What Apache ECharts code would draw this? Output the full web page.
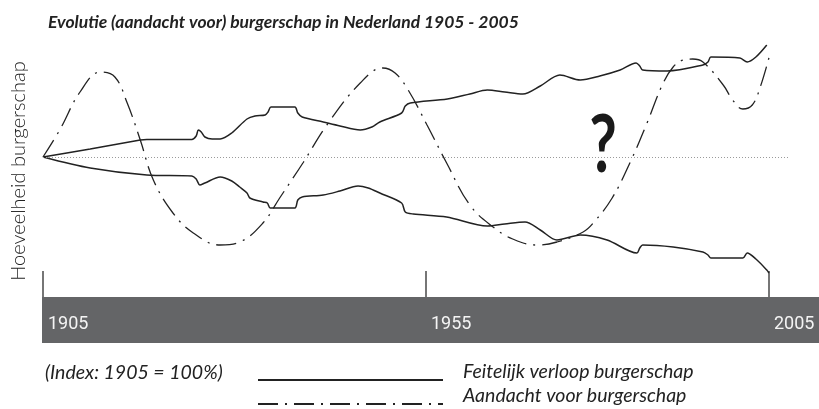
<!DOCTYPE html>
<html>
<head>
<meta charset="utf-8">
<script src="https://cdn.jsdelivr.net/npm/echarts@6/dist/echarts.min.js"></script>
<style>
  html, body { margin: 0; padding: 0; background: #fff; }
  #grafiek { width: 819px; height: 409px; }
</style>
</head>
<body>
<div id="grafiek"></div>
<script>
// Tijdas: 0 = 1905, 100 = 2005 (zoals getekend, niet helemaal lineair)
const tijdTicks = [0, 52.75, 100];
const tijdLabels = ['1905', '1955', '2005'];

// Index: 1905 = 100
const feitelijkBoven = [
    [0, 100], [6.5, 104], [13.4, 108.5], [14.3, 108.8], [20.5, 108.8], [21.1, 110.5], [21.4, 113.5],
    [21.8, 112.5], [22.3, 110], [23.3, 109], [24.4, 109], [26, 112], [28.1, 119], [29.2, 120.5],
    [30.6, 121], [31, 122.5], [31.4, 125], [32.6, 125], [34.7, 125], [35.1, 122], [35.7, 120],
    [38.6, 117.5], [40.9, 115.5], [43.7, 113.5], [45.3, 115], [46.4, 117.5], [49.4, 122], [49.9, 125.5],
    [50.6, 127], [55.7, 129], [58.8, 131.5], [61.2, 133.5], [63.6, 132.5], [66.1, 131.5], [68.5, 135.5],
    [71.2, 141], [74, 138.5], [76.7, 140.5], [79.5, 143.5], [81.7, 147], [82.2, 145.5], [82.6, 143.5],
    [86, 143], [90.9, 146], [91.6, 147.5], [92, 150], [96, 149.5], [97, 147.5], [98.2, 150], [99.7, 156]
];
const feitelijkOnder = [
    [0, 100], [6.5, 94.5], [14.3, 91], [20.5, 90.5], [21.1, 89], [21.6, 86], [22.3, 87], [24.4, 90],
    [26, 88], [27.1, 85], [28.1, 82], [28.5, 79.5], [30.3, 77.5], [30.9, 77], [31.3, 74.5], [32.6, 74.5],
    [34.7, 74.5], [35.1, 78.5], [35.7, 80], [38.6, 81], [40.9, 83], [43.4, 85.5], [44.8, 84.5], [46.4, 82],
    [49.4, 77], [49.9, 72.5], [51, 71.5], [55.6, 70], [61.2, 65.5], [63.6, 66.5], [66.4, 67.5], [68.5, 63.5],
    [70.8, 58.5], [74, 61], [77.7, 58.5], [81.8, 52], [82.2, 54.5], [82.6, 56], [86.8, 55], [90.9, 52.5],
    [91.6, 51], [92, 49.5], [96.4, 49.5], [97, 52], [98.2, 49], [99.7, 43.5], [100, 42]
];
const aandacht = [
    [0, 100], [2.3, 113.5], [5.1, 132.5], [7.9, 142.5], [9.9, 140], [11.6, 127], [13.4, 108.5],
    [15.2, 88.5], [17.9, 72], [20.7, 62], [24.4, 56], [27.1, 57.5], [30.3, 67], [32.6, 79.5],
    [35.8, 97], [39.1, 116], [43.7, 137], [46.8, 144.5], [48.5, 142], [50.3, 133.5], [52.9, 116],
    [55.6, 97], [58.8, 76], [62, 65], [64.7, 59], [68, 56], [70.8, 57.5], [74.4, 62.5], [75.8, 67],
    [78.4, 79.5], [80.9, 97.5], [83.2, 117], [85.3, 136], [86.8, 145], [88.2, 148.5], [89.5, 149],
    [90.9, 147.5], [93.7, 136], [95, 128.5], [96.4, 124], [97.7, 126], [98.8, 135], [100.1, 151]
];
const basislijn = [[0, 100], [102.9, 100]];

const lijnKleur = '#222222';
const streepPunt = [20, 7, 2, 7];
const legendaFont = 'italic 19.5px Lato';

// legenda: alleen de lijnstukjes, de teksten staan als graphic ernaast
const legendaBasis = {
    orient: 'vertical',
    left: 257,
    padding: 0,
    itemWidth: 185,
    itemHeight: 14,
    selectedMode: false,
    itemStyle: { opacity: 0 },
    formatter: () => '',
    textStyle: { fontSize: 1 }
};

const grafiek = echarts.init(document.getElementById('grafiek'));
grafiek.setOption({
    animation: false,
    title: {
        text: 'Evolutie (aandacht voor) burgerschap in Nederland 1905 - 2005',
        left: 43,
        top: 8,
        textStyle: { fontFamily: 'Lato', fontStyle: 'italic', fontWeight: 'bold', fontSize: 17.5, color: '#222' }
    },
    legend: [
        Object.assign({}, legendaBasis, { top: 373, data: ['Feitelijk verloop burgerschap'] }),
        Object.assign({}, legendaBasis, { top: 397, data: ['Aandacht voor burgerschap'] })
    ],
    grid: { left: 43, right: 21, top: 45, bottom: 112 },
    xAxis: {
        type: 'value',
        min: 0,
        max: 104,
        axisLine: { show: false },
        splitLine: { show: false },
        axisTick: {
            customValues: tijdTicks,
            inside: true,
            length: 26,
            lineStyle: { color: '#4a4a4a', width: 1.5 }
        },
        axisLabel: {
            customValues: tijdTicks,
            formatter: v => tijdLabels[tijdTicks.indexOf(v)],
            align: 'left',
            padding: [0, 0, 0, 5],
            margin: 18,
            color: '#f4f4f4',
            fontSize: 18,
            fontFamily: 'Roboto'
        }
    },
    yAxis: {
        type: 'value',
        min: 30,
        max: 156,
        axisLine: { show: false },
        axisTick: { show: false },
        axisLabel: { show: false },
        splitLine: { show: false },
        name: 'Hoeveelheid burgerschap',
        nameLocation: 'middle',
        nameGap: 14,
        nameTextStyle: { fontFamily: 'Lato', fontWeight: 300, fontSize: 20, color: '#222' }
    },
    graphic: [
        {
            type: 'rect',
            z: -1,
            shape: { x: 42, y: 297, width: 777, height: 46 },
            style: { fill: '#646567' }
        },
        {
            type: 'text',
            left: 45,
            top: 363,
            style: { text: '(Index: 1905 = 100%)', font: legendaFont, fill: '#222' }
        },
        {
            type: 'text',
            left: 463,
            top: 362,
            style: { text: 'Feitelijk verloop burgerschap', font: legendaFont, fill: '#222' }
        },
        {
            type: 'text',
            left: 463,
            top: 386,
            style: { text: 'Aandacht voor burgerschap', font: legendaFont, fill: '#222' }
        },
        {
            type: 'text',
            x: 603,
            y: 146,
            scaleX: 0.75,
            style: {
                text: '?', font: 'bold 80px Lato', fill: '#1a1a1a',
                align: 'center', verticalAlign: 'middle'
            }
        }
    ],
    series: [
        {
            name: 'Feitelijk verloop burgerschap',
            type: 'line',
            data: feitelijkBoven,
            symbol: 'none',
            smooth: 0.3,
            lineStyle: { color: lijnKleur, width: 1.5 },
            itemStyle: { color: lijnKleur },
            markLine: {
                silent: true,
                symbol: 'none',
                label: { show: false },
                lineStyle: { color: '#9a9a9a', width: 1, type: [1, 2] },
                data: [[{ coord: basislijn[0] }, { coord: basislijn[1] }]]
            }
        },
        {
            name: 'Feitelijk verloop burgerschap',
            type: 'line',
            data: feitelijkOnder,
            symbol: 'none',
            smooth: 0.3,
            lineStyle: { color: lijnKleur, width: 1.5 },
            itemStyle: { color: lijnKleur }
        },
        {
            name: 'Aandacht voor burgerschap',
            type: 'line',
            data: aandacht,
            symbol: 'none',
            smooth: 0.4,
            lineStyle: { color: lijnKleur, width: 1.3, type: streepPunt },
            itemStyle: { color: lijnKleur }
        }
    ]
});
</script>
</body>
</html>
